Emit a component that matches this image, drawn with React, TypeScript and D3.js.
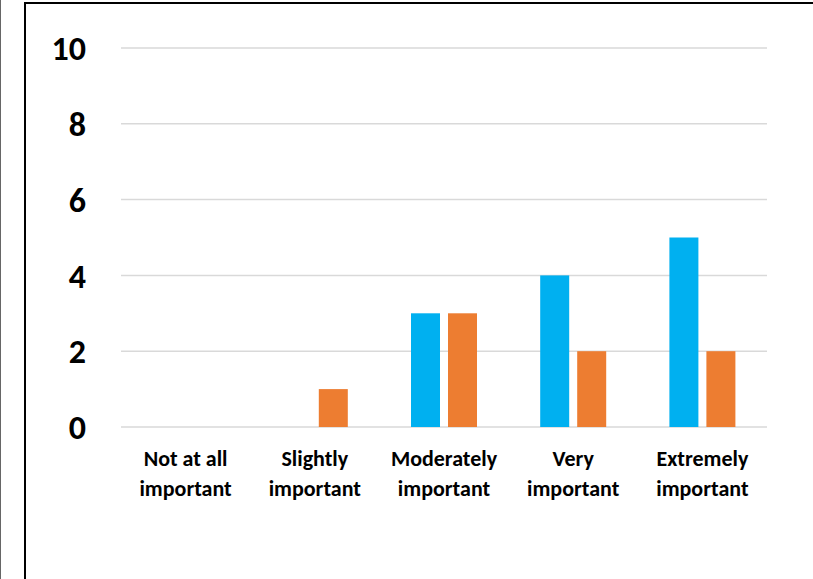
import React from "react";
import * as d3 from "d3";

const categories = [
  ["Not at all", "important"],
  ["Slightly", "important"],
  ["Moderately", "important"],
  ["Very", "important"],
  ["Extremely", "important"],
];
const seriesA = [0, 0, 3, 4, 5];
const seriesB = [0, 1, 3, 2, 2];
const yTicks = [0, 2, 4, 6, 8, 10];

const W = 813;
const H = 579;
const FONT = "Carlito, Calibri, Lato, 'Open Sans', sans-serif";

export default function App() {
  const x = d3
    .scaleBand<number>()
    .domain(categories.map((_, i) => i))
    .range([121, 767])
    .padding(0);
  const bw = x.bandwidth();
  const sub = d3
    .scaleBand<number>()
    .domain([0, 1])
    .range([bw / 2 - 33, bw / 2 + 33])
    .paddingInner(8 / 37)
    .paddingOuter(0);
  const y = d3.scaleLinear().domain([0, 10]).range([427, 48]);
  const series = [
    { vals: seriesA, color: "#00B0F0" },
    { vals: seriesB, color: "#ED7D31" },
  ];

  return (
    <svg
      width={W}
      height={H}
      style={{ position: "absolute", left: 0, top: 0, background: "#fff" }}
    >
      <rect x={0} y={0} width={W} height={H} fill="#fff" />
      <line x1={0.5} y1={0} x2={0.5} y2={H} stroke="#666" strokeWidth={1} />
      <path d={`M25,${H + 5} L25,3 L${W + 5},3`} fill="none" stroke="#000" strokeWidth={2} />
      {yTicks.map((t) => (
        <g key={t}>
          <line x1={121} x2={767} y1={y(t)} y2={y(t)} stroke="#D9D9D9" strokeWidth={1.5} />
          <text
            x={86}
            y={y(t)}
            dy="0.36em"
            textAnchor="end"
            fontFamily={FONT}
            fontWeight="900"
            fontSize={34}
            fill="#000"
          >
            {t}
          </text>
        </g>
      ))}
      {categories.map((c, i) => (
        <g key={i} transform={`translate(${x(i)},0)`}>
          {series.map((s, j) =>
            s.vals[i] > 0 ? (
              <rect
                key={j}
                x={sub(j)}
                width={sub.bandwidth()}
                y={y(s.vals[i])}
                height={y(0) - y(s.vals[i])}
                fill={s.color}
              />
            ) : null
          )}
          <text
            x={bw / 2}
            textAnchor="middle"
            fontFamily={FONT}
            fontWeight="bold"
            fontSize={22}
            fill="#000"
          >
            <tspan x={bw / 2} y={466}>{c[0]}</tspan>
            <tspan x={bw / 2} y={496}>{c[1]}</tspan>
          </text>
        </g>
      ))}
    </svg>
  );
}
